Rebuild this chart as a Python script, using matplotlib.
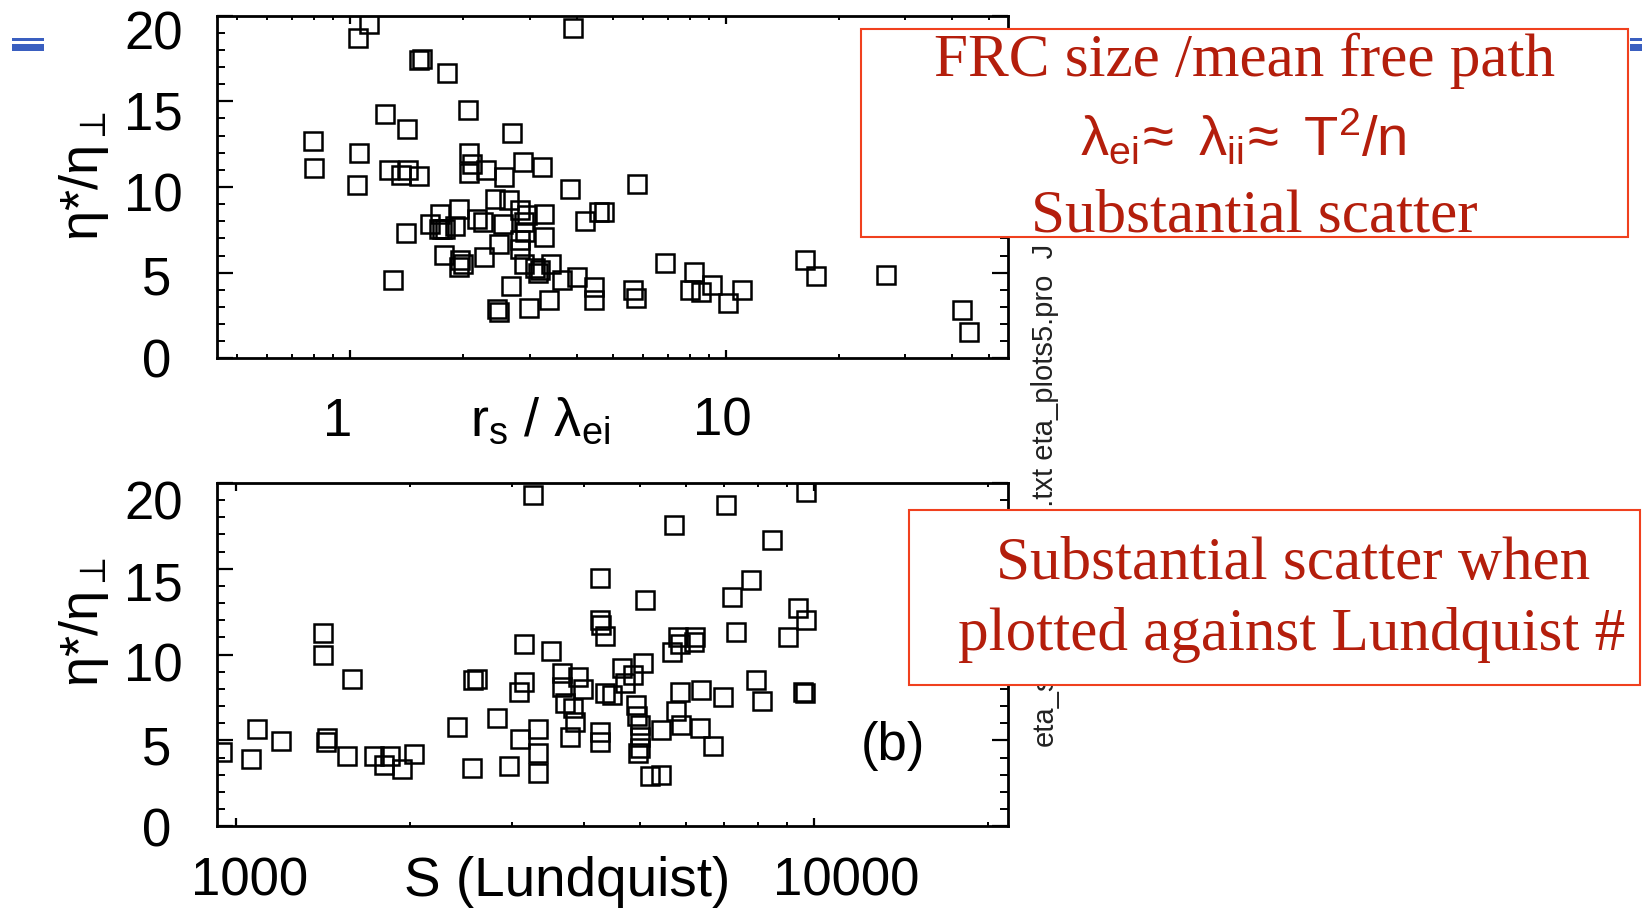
import matplotlib
matplotlib.use('Agg')
import matplotlib.pyplot as plt
from matplotlib.patches import Rectangle
from matplotlib.ticker import FixedLocator, MultipleLocator, NullFormatter
from matplotlib.transforms import offset_copy

plt.rcParams['font.family'] = ['Liberation Sans', 'DejaVu Sans']
plt.rcParams['mathtext.fontset'] = 'custom'
plt.rcParams['mathtext.rm'] = 'Liberation Sans'
plt.rcParams['mathtext.it'] = 'Liberation Sans:italic'
plt.rcParams['mathtext.bf'] = 'Liberation Sans:bold'

# --- donnees ---
# panneau (a) : eta*/eta_perp en fonction de r_s / lambda_ei
rs_lambda = [1.119, 1.048, 3.91, 1.52, 1.55, 1.81, 2.06, 1.24, 1.415, 0.794,
             2.69, 1.057, 2.07, 0.799, 1.265, 1.36, 1.42, 1.52, 2.11, 2.07,
             2.29, 2.88, 3.24, 2.57, 1.04, 3.85, 4.58, 4.72, 4.2,
             2.43, 2.64, 1.73, 1.95, 1.63, 1.41, 1.72, 1.75, 1.79, 1.90,
             2.17, 2.26, 2.55, 2.83, 2.90, 2.96, 3.27, 2.92, 3.27, 2.48,
             2.83, 2.83, 1.77, 1.96, 2.0, 1.94, 2.27, 2.89, 3.1, 3.2,
             3.15, 3.41, 3.66, 4.01, 4.44, 4.44, 2.67, 2.46, 2.49, 2.98,
             3.37, 1.30,
             5.78, 6.88, 8.22, 8.02, 8.6, 9.2, 10.1, 11.0, 5.64, 5.76,
             16.2, 17.4, 26.7, 42.4, 44.2]
eta_a = [19.48, 18.68, 19.28, 17.38, 17.48, 16.66, 14.50, 14.27, 13.36, 12.68,
         13.15, 12.0, 11.98, 11.11, 10.97, 10.72, 10.97, 10.64, 11.32, 10.83,
         10.97, 11.46, 11.17, 10.58, 10.10, 9.90, 8.55, 8.55, 8.02,
         9.32, 9.22, 8.41, 8.74, 7.86, 7.32, 7.57, 7.57, 7.57, 7.71,
         8.15, 7.96, 7.86, 8.64, 7.95, 8.35, 8.45, 7.38, 7.09, 6.70,
         6.89, 6.41, 6.02, 5.77, 5.53, 5.34, 5.92, 5.53, 5.3, 5.15,
         5.0, 5.53, 4.60, 4.76, 4.17, 3.40, 4.21, 2.91, 2.72, 2.95,
         3.40, 4.60,
         10.19, 5.59, 5.05, 4.02, 3.88, 4.27, 3.24, 3.98, 4.02, 3.50,
         5.77, 4.80, 4.89, 2.85, 1.55]

# panneau (b) : eta*/eta_perp en fonction du nombre de Lundquist
lundquist = [3260, 4260, 4260, 4290, 4350, 1412, 1412, 1585, 3150, 3515,
             2570, 2610, 3150, 3090, 3670, 3910, 3990, 3660, 3710, 3830,
             3860, 4350, 2410, 2830, 3330, 3100, 3330, 3330, 3780, 4260,
             4260, 2560, 2970, 1086, 944, 1060, 1196, 1435, 1430, 1554,
             1730, 1800, 1850, 1935, 2030,
             9690, 7060, 5730, 8470, 7800, 7220, 5100, 9400, 9700, 9040,
             7350, 5820, 6220, 5880, 6200, 5680, 5070, 4650, 4870, 4720,
             4470, 4930, 5860, 6390, 6970, 7960, 8150, 9590, 9650, 5780,
             4950, 5000, 5890, 5450, 6350, 6700, 5000, 5000, 4970, 5200,
             5450]
eta_b = [19.28, 14.48, 12.0, 11.7, 11.1, 11.24, 9.98, 8.59, 10.62, 10.21,
         8.53, 8.58, 8.43, 7.85, 8.95, 8.72, 8.0, 8.14, 7.17, 6.88,
         6.10, 7.75, 5.81, 6.30, 5.68, 5.10, 4.26, 3.10, 5.23, 5.52,
         4.9, 3.39, 3.49, 5.68, 4.32, 3.93, 4.94, 5.14, 4.9, 4.07,
         4.07, 3.59, 4.07, 3.35, 4.21,
         19.5, 18.74, 17.54, 16.67, 14.34, 13.37, 13.18, 12.73, 12.02, 11.05,
         11.30, 11.05, 11.05, 10.6, 10.76, 10.17, 9.5, 9.2, 8.8, 8.33,
         7.65, 7.07, 7.85, 7.95, 7.56, 8.53, 7.31, 7.85, 7.75, 6.69,
         6.40, 5.91, 5.91, 5.62, 5.72, 4.65, 5.23, 4.55, 4.26, 2.91,
         3.0]

yticks = [0, 5, 10, 15, 20]
yticklabels = ['0', '5', '10', '15', '20']
xticks_a = [1, 10]
xticklabels_a = ['1', '10']
xminor_a = [0.5, 0.6, 0.7, 0.8, 0.9, 2, 3, 4, 5, 6, 7, 8, 9, 20, 30, 40, 50]
xticks_b = [1000, 10000]
xticklabels_b = ['1000', '10000']
xminor_b = [2000, 3000, 4000, 5000, 6000, 7000, 8000, 9000, 20000]

W, H = 1642, 908
fig = plt.figure(figsize=(W / 100, H / 100), dpi=100)


def fx(px):
    return px / W


def fy(py):
    return 1 - py / H


def make_axes(rect, x, y, xlim, major, minor, labels, label_dx, label_y, ylab_dy):
    ax = fig.add_axes(rect)
    ax.plot(x, y, 's', ms=13.5, mfc='none', mec='black', mew=1.8)
    ax.set_xscale('log')
    ax.set_xlim(*xlim)
    ax.set_ylim(0, 20)
    ax.xaxis.set_major_locator(FixedLocator(major))
    ax.xaxis.set_minor_locator(FixedLocator(minor))
    ax.xaxis.set_major_formatter(NullFormatter())
    ax.xaxis.set_minor_formatter(NullFormatter())
    ax.yaxis.set_major_locator(FixedLocator(yticks))
    ax.yaxis.set_minor_locator(MultipleLocator(1))
    ax.yaxis.set_major_formatter(NullFormatter())
    ax.tick_params(axis='y', which='major', direction='in', length=11.5, width=1.6,
                   left=True, right=True)
    ax.tick_params(axis='y', which='minor', direction='in', length=6, width=1.4,
                   left=True, right=True)
    ax.tick_params(axis='x', which='major', direction='in', length=5.5, width=1.6,
                   bottom=True, top=True)
    ax.tick_params(axis='x', which='minor', direction='in', length=3, width=1.4,
                   bottom=True, top=True)
    for sp in ax.spines.values():
        sp.set_linewidth(2.0)
    # etiquettes de l'axe x (decalees comme sur l'original)
    for val, lab, dx in zip(major, labels, label_dx):
        tr = offset_copy(ax.get_xaxis_transform(), fig=fig, x=dx, y=0, units='dots')
        ax.text(val, label_y, lab, transform=tr, ha='center', va='baseline',
                fontsize=38)
    # etiquettes de l'axe y (un peu plus bas que les graduations, comme sur l'original)
    for val, lab, dy in zip(yticks, yticklabels, ylab_dy):
        dx = -46 if len(lab) == 1 else -34
        tr = offset_copy(ax.get_yaxis_transform(), fig=fig, x=dx, y=dy, units='dots')
        ax.text(0, val, lab, transform=tr, ha='right', va='center_baseline',
                fontsize=38)
    return ax


ax1 = make_axes([0.1322, 0.6052, 0.4817, 0.3777], rs_lambda, eta_a,
                (0.4417, 56.3), xticks_a, xminor_a, xticklabels_a, [-13, -4], -0.226,
                [0, -2.5, -4.5, -8.5, -14])
ax1.text(0.408, -0.226, r'$\mathregular{r_s\ /\ \lambda_{ei}}$', transform=ax1.transAxes,
         ha='center', va='baseline', fontsize=39)
ylab = r'$\mathregular{\eta}$*/$\mathregular{\eta_\perp}$'
ax1.set_ylabel(ylab, fontsize=39, va='center', ha='center')
ax1.yaxis.set_label_coords(-0.168, 0.532)

ax2 = make_axes([0.1322, 0.0900, 0.4817, 0.3781], lundquist, eta_b,
                (927, 21700), xticks_b, xminor_b, xticklabels_b, [13, 33], -0.203,
                [-1, -5, -7.5, -12, -17.5])
ax2.text(0.442, -0.203, 'S (Lundquist)', transform=ax2.transAxes,
         ha='center', va='baseline', fontsize=39.5)
ax2.set_ylabel(ylab, fontsize=39, va='center', ha='center')
ax2.yaxis.set_label_coords(-0.168, 0.595)
ax2.text(0.855, 0.233, '(b)', transform=ax2.transAxes, ha='center', va='center',
         fontsize=38)

# texte vertical (nom des fichiers IDL), en partie cache par les encadres
fig.text(fx(1045), fy(746), 'eta_s', rotation=90, rotation_mode='anchor',
         ha='left', va='center', fontsize=21, color='#222222', zorder=2)
fig.text(fx(1045), fy(523), '5.txt eta_plots5.pro  J', rotation=90,
         rotation_mode='anchor', ha='left', va='center', fontsize=21,
         color='#222222', zorder=2)

# petites barres bleues (decor de la diapo)
blue = '#3A5FC0'
for x0, x1 in [(12, 44), (1630, 1642)]:
    fig.add_artist(Rectangle((fx(x0), fy(41)), fx(x1 - x0), 3 / H, color=blue, lw=0, zorder=1))
    fig.add_artist(Rectangle((fx(x0), fy(51)), fx(x1 - x0), 7 / H, color=blue, lw=0, zorder=1))

# encadres rouges
red_txt = '#B41E0C'
red_box = '#F0401E'
fig.add_artist(Rectangle((fx(861), fy(237)), fx(1628 - 861), (237 - 29) / H,
                         facecolor='white', edgecolor=red_box, lw=1.5, zorder=5))
fig.add_artist(Rectangle((fx(909), fy(685)), fx(1640 - 909), (685 - 510) / H,
                         facecolor='white', edgecolor=red_box, lw=1.5, zorder=5))

serif = ['Liberation Serif', 'DejaVu Serif']
fig.text(fx(1244), fy(76), 'FRC size /mean free path', ha='center', va='baseline',
         fontsize=44, family=serif, color=red_txt, zorder=6)
fig.text(fx(1243), fy(155),
         r'$\mathregular{\lambda_{ei}\!\approx\ \lambda_{ii}\!\approx\ T^2/n}$',
         ha='center', va='baseline', fontsize=40.5, color=red_txt, zorder=6)
fig.text(fx(1254), fy(231), 'Substantial scatter', ha='center', va='baseline',
         fontsize=44, family=serif, color=red_txt, zorder=6)
fig.text(fx(1293), fy(579), 'Substantial scatter when', ha='center', va='baseline',
         fontsize=44, family=serif, color=red_txt, zorder=6)
fig.text(fx(1292), fy(650), 'plotted against Lundquist #', ha='center', va='baseline',
         fontsize=44, family=serif, color=red_txt, zorder=6)

fig.savefig('out.png', dpi=100)
